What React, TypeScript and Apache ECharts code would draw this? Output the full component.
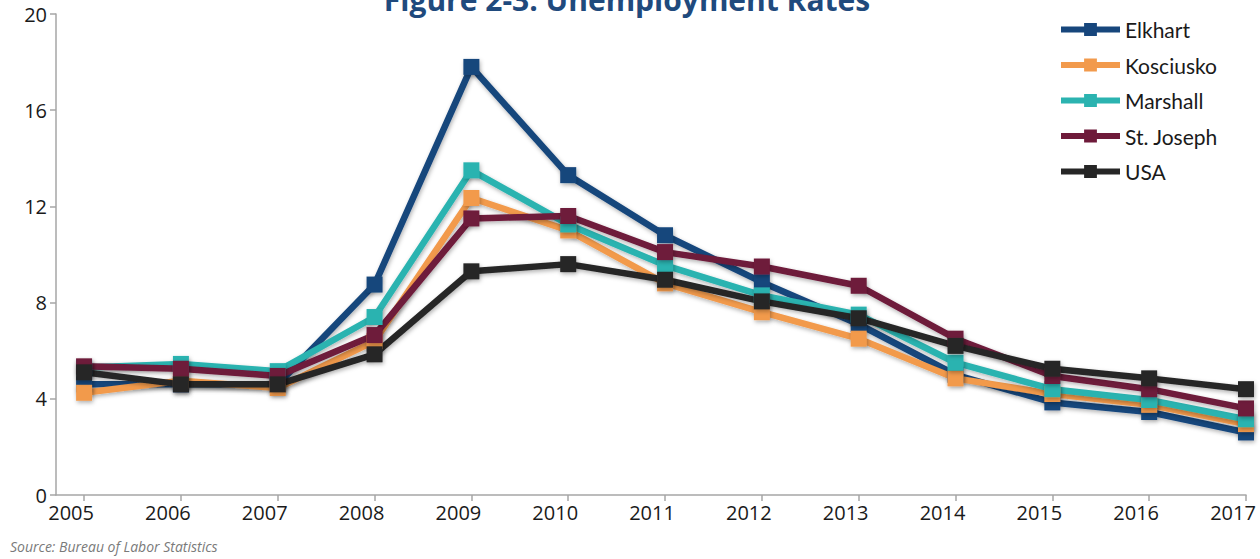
import React, { useEffect, useRef } from "react";
import * as echarts from "echarts";

const years = [2005, 2006, 2007, 2008, 2009, 2010, 2011, 2012, 2013, 2014, 2015, 2016, 2017];
const elkhart = [4.6, 4.6, 4.6, 8.75, 17.8, 13.3, 10.8, 8.85, 7.1, 5.0, 3.85, 3.45, 2.6];
const kosciusko = [4.25, 4.75, 4.45, 6.4, 12.35, 11.0, 8.8, 7.6, 6.5, 4.85, 4.2, 3.75, 2.95];
const marshall = [5.3, 5.45, 5.15, 7.4, 13.5, 11.25, 9.55, 8.3, 7.5, 5.5, 4.4, 3.95, 3.15];
const stJoseph = [5.35, 5.25, 4.95, 6.65, 11.5, 11.6, 10.1, 9.5, 8.7, 6.5, 4.95, 4.4, 3.6];
const usa = [5.1, 4.6, 4.6, 5.85, 9.3, 9.6, 8.95, 8.05, 7.35, 6.2, 5.25, 4.85, 4.4];
const yTicks = [0, 4, 8, 12, 16, 20];

const seriesDefs = [
  { name: "Elkhart", data: elkhart, color: "#17467c" },
  { name: "Kosciusko", data: kosciusko, color: "#f29a4c" },
  { name: "Marshall", data: marshall, color: "#2bb3b0" },
  { name: "St. Joseph", data: stJoseph, color: "#6e1a3a" },
  { name: "USA", data: usa, color: "#262626" },
];

export default function App() {
  const ref = useRef<HTMLDivElement>(null);
  useEffect(() => {
    if (!ref.current) return;
    const chart = echarts.init(ref.current, undefined, { renderer: "svg" });
    const font = "'Open Sans', 'Noto Sans', sans-serif";
    chart.setOption({
      animation: false,
      backgroundColor: "#ffffff",
      textStyle: { fontFamily: font },
      grid: { left: 56, right: 14, top: 14, bottom: 64, containLabel: false },
      graphic: [
        {
          type: "text",
          x: 627,
          y: -1,
          style: {
            text: "Figure 2-3: Unemployment Rates",
            font: "bold 30px 'Open Sans', 'Noto Sans', sans-serif",
            fill: "#1f4a7d",
            align: "center",
            verticalAlign: "middle",
          },
        },
        {
          type: "text",
          x: 10,
          y: 546,
          style: {
            text: "Source: Bureau of Labor Statistics",
            font: "italic 14px 'Open Sans', 'Noto Sans', sans-serif",
            fill: "#7a7a7a",
            align: "left",
            verticalAlign: "middle",
          },
        },
      ],
      legend: {
        orient: "vertical",
        left: 1053,
        top: 14,
        itemWidth: 59,
        itemHeight: 16,
        itemGap: 14.5,
        lineStyle: { width: 6 },
        textStyle: { fontSize: 21, color: "#1a1a1a", fontFamily: "Lato, 'Open Sans', sans-serif" },
        data: seriesDefs.map((s) => s.name),
      },
      xAxis: {
        type: "value",
        min: 2004.71,
        max: 2017,
        axisLine: { show: true, lineStyle: { color: "#a6a6a6", width: 1.5 } },
        axisTick: { show: true, length: 6, lineStyle: { color: "#a6a6a6", width: 1.5 }, customValues: years },
        axisLabel: {
          customValues: years,
          fontSize: 20,
          color: "#1a1a1a",
          margin: 7,
          padding: [0, 26, 0, 0],
          formatter: (v: number) => String(v),
        },
        splitLine: { show: false },
      },
      yAxis: {
        type: "value",
        min: 0,
        max: 20,
        interval: 4,
        axisLine: { show: true, lineStyle: { color: "#a6a6a6", width: 1.5 } },
        axisTick: { show: true, length: 6, lineStyle: { color: "#a6a6a6", width: 1.5 } },
        axisLabel: { fontSize: 20, color: "#1a1a1a", margin: 9, customValues: yTicks },
        splitLine: { show: false },
      },
      series: seriesDefs.map((s) => ({
        name: s.name,
        type: "line",
        data: s.data.map((v, i) => [years[i], v]),
        symbol: "rect",
        symbolSize: 16,
        showSymbol: true,
        color: s.color,
        lineStyle: {
          width: 6.5,
          color: s.color,
          shadowBlur: 4,
          shadowColor: "rgba(0,0,0,0.3)",
          shadowOffsetX: 1,
          shadowOffsetY: 2,
        },
        itemStyle: {
          color: s.color,
          shadowBlur: 4,
          shadowColor: "rgba(0,0,0,0.3)",
          shadowOffsetX: 1,
          shadowOffsetY: 2,
        },
        emphasis: { disabled: true },
      })),
    });
    return () => chart.dispose();
  }, []);
  return (
    <div
      ref={ref}
      style={{ position: "absolute", left: 0, top: 0, width: 1260, height: 559, overflow: "hidden" }}
    />
  );
}
